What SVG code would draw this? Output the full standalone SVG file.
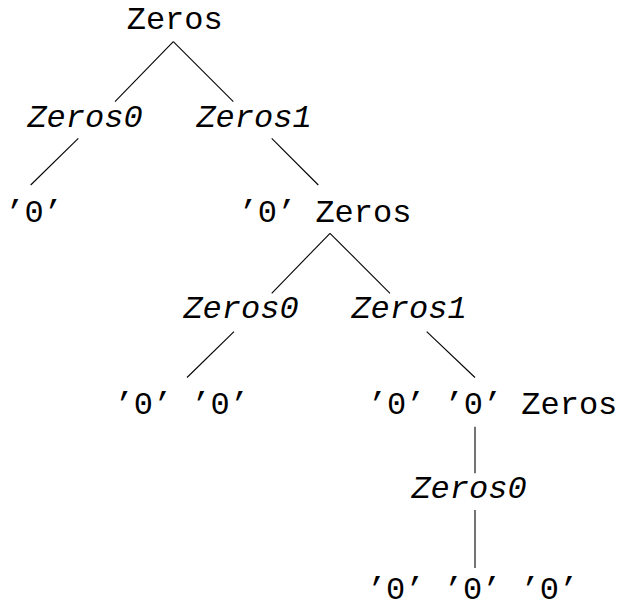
<svg xmlns="http://www.w3.org/2000/svg" width="618" height="609" viewBox="0 0 618 609">
  <style>
    text { font-family: "Liberation Mono", "Courier New", monospace; font-size: 32px; fill: #000; text-anchor: middle; }
    .nt { font-style: italic; }
    .edge { stroke: #000; stroke-width: 1.1; fill: none; }
  </style>
  <rect width="618" height="609" fill="#fff"/>

  <!-- tree edges -->
  <g id="connectors">
    <line class="edge" x1="173.3" y1="41.7" x2="115" y2="101.7"/>
    <line class="edge" x1="173.3" y1="41.7" x2="233.3" y2="101.7"/>
    <line class="edge" x1="78.3" y1="138.3" x2="30.7" y2="185"/>
    <line class="edge" x1="271.7" y1="138.3" x2="318.3" y2="185"/>
    <line class="edge" x1="330" y1="233.3" x2="271.7" y2="293.3"/>
    <line class="edge" x1="330" y1="233.3" x2="390" y2="293.3"/>
    <line class="edge" x1="234" y1="331.7" x2="187" y2="377.5"/>
    <line class="edge" x1="426.7" y1="331.7" x2="475" y2="377.5"/>
    <line class="edge" x1="475" y1="426.7" x2="475" y2="473.3"/>
    <line class="edge" x1="475" y1="510" x2="475" y2="568"/>
  </g>

  <!-- nodes -->
  <g id="root"><text x="174.7" y="29">Zeros</text></g>
  <g id="zeros0-a"><text class="nt" x="85" y="127">Zeros0</text></g>
  <g id="zeros1-a"><text class="nt" x="254" y="127">Zeros1</text></g>
  <g id="leaf-a"><text x="34" y="222">’0’</text></g>
  <g id="zeros-b"><text x="325" y="222">’0’ Zeros</text></g>
  <g id="zeros0-b"><text class="nt" x="241" y="318">Zeros0</text></g>
  <g id="zeros1-b"><text class="nt" x="409" y="318">Zeros1</text></g>
  <g id="leaf-b"><text x="181.7" y="414">’0’ ’0’</text></g>
  <g id="zeros-c"><text x="492.5" y="414">’0’ ’0’ Zeros</text></g>
  <g id="zeros0-c"><text class="nt" x="469" y="498">Zeros0</text></g>
  <g id="leaf-c"><text x="472.5" y="599">’0’ ’0’ ’0’</text></g>
</svg>
